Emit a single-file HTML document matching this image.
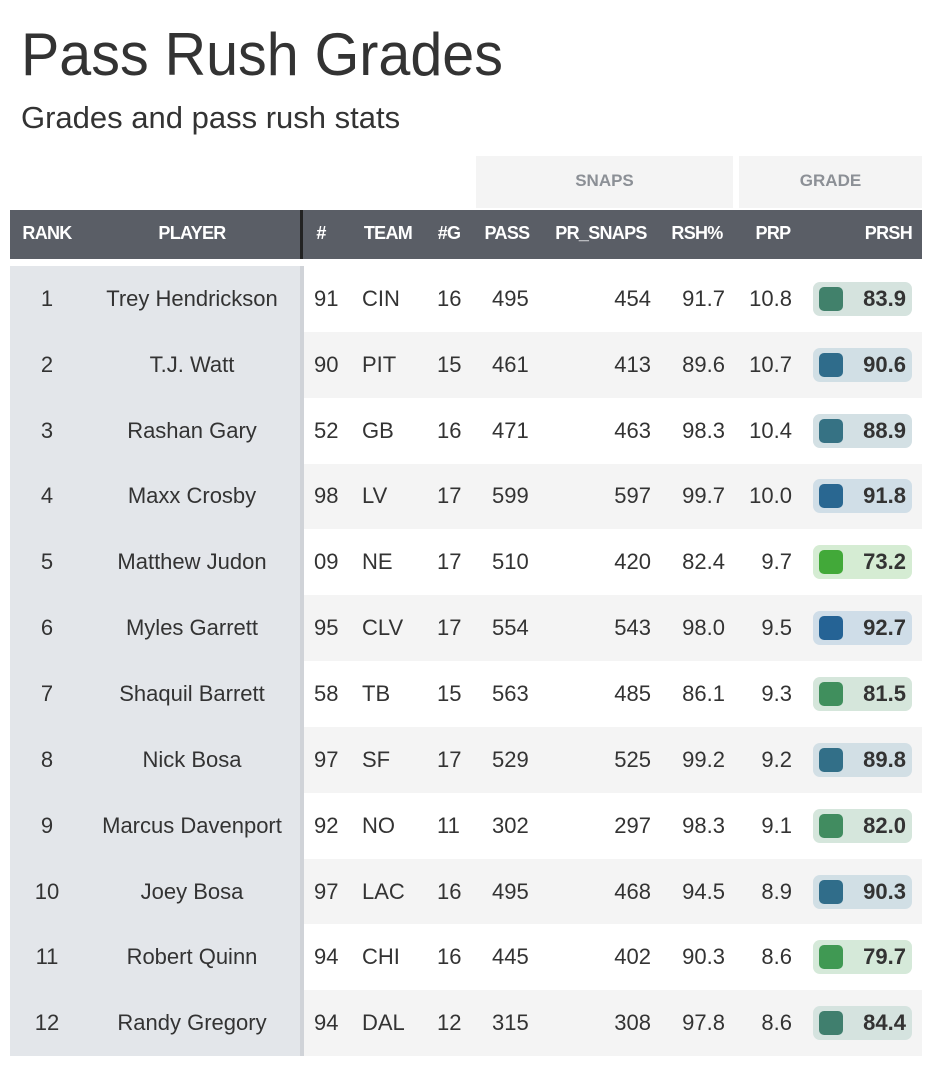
<!DOCTYPE html>
<html><head><meta charset="utf-8">
<style>
body{margin:0;width:932px;height:1068px;background:#fff;font-family:"Liberation Sans",sans-serif;color:#333;position:relative;overflow:hidden}
.a{position:absolute;white-space:nowrap}
.hd{color:#fff;font-weight:bold;font-size:18px;letter-spacing:-0.7px;top:223px}
.c{font-size:22px;color:#333}
</style></head><body>
<div class="a" style="left:21px;top:20px;font-size:60px;transform:scaleX(0.957);transform-origin:left top;color:#333">Pass Rush Grades</div>
<div class="a" style="left:21px;top:100px;font-size:31px;transform:scaleX(1.0);transform-origin:left top;color:#333">Grades and pass rush stats</div>
<div class="a" style="left:476px;top:156px;width:257px;height:52px;background:#f4f4f4;color:#8c9096;font-weight:bold;font-size:17px;text-align:center;line-height:50px">SNAPS</div>
<div class="a" style="left:739px;top:156px;width:183px;height:52px;background:#f4f4f4;color:#8c9096;font-weight:bold;font-size:17px;text-align:center;line-height:50px">GRADE</div>
<div class="a" style="left:10px;top:210px;width:912px;height:49px;background:#5a5e66"></div>
<div class="a" style="left:300px;top:210px;width:3px;height:49px;background:#222"></div>
<div class="a" style="left:10px;top:266px;width:290px;height:790px;background:#e3e6ea"></div>
<div class="a" style="left:300px;top:266px;width:4px;height:790px;background:#d0d3d8"></div>
<script>
const ranks=[1,2,3,4,5,6,7,8,9,10,11,12];
const players=["Trey Hendrickson","T.J. Watt","Rashan Gary","Maxx Crosby","Matthew Judon","Myles Garrett","Shaquil Barrett","Nick Bosa","Marcus Davenport","Joey Bosa","Robert Quinn","Randy Gregory"];
const jerseys=["91","90","52","98","09","95","58","97","92","97","94","94"];
const teams=["CIN","PIT","GB","LV","NE","CLV","TB","SF","NO","LAC","CHI","DAL"];
const games=[16,15,16,17,17,17,15,17,11,16,16,12];
const pass=[495,461,471,599,510,554,563,529,302,495,445,315];
const prSnaps=[454,413,463,597,420,543,485,525,297,468,402,308];
const rsh=["91.7","89.6","98.3","99.7","82.4","98.0","86.1","99.2","98.3","94.5","90.3","97.8"];
const prp=["10.8","10.7","10.4","10.0","9.7","9.5","9.3","9.2","9.1","8.9","8.6","8.6"];
const prsh=[83.9,90.6,88.9,91.8,73.2,92.7,81.5,89.8,82.0,90.3,79.7,84.4];

function gradeColor(g){
  const stops=[[73,[66,170,56]],[80,[64,152,84]],[84,[65,128,108]],[89,[54,114,132]],[93,[36,98,150]]];
  if(g<=stops[0][0])return stops[0][1];
  for(let i=1;i<stops.length;i++){if(g<=stops[i][0]){const t=(g-stops[i-1][0])/(stops[i][0]-stops[i-1][0]);return stops[i-1][1].map((v,k)=>Math.round(v+(stops[i][1][k]-v)*t));}}
  return stops[stops.length-1][1];
}
const body=document.body;
const hdrs=[["RANK",47,"c"],["PLAYER",192,"c"],["#",321,"c"],["TEAM",388,"c"],["#G",449,"c"],["PASS",507,"c"],["PR_SNAPS",601,"c"],["RSH%",697,"c"],["PRP",773,"c"],["PRSH",912,"r"]];
hdrs.forEach(h=>{
  const d=document.createElement('div');d.className='a hd';d.textContent=h[0];
  
  
  if(h[2]==="c"){d.style.left=(h[1]-60)+'px';d.style.width='120px';d.style.textAlign='center';}
  else{d.style.left=(h[1]-120)+'px';d.style.width='120px';d.style.textAlign='right';}
  body.appendChild(d);
});
const rowH=65.85,top0=266;
function txt(t,x,y,align,name,bold){
  const d=document.createElement('div');d.className='a c';d.textContent=t;
  
  
  d.style.top=(y-13)+'px';
  if(align==='l'){d.style.left=x+'px';}
  else if(align==='c'){d.style.left=(x-110)+'px';d.style.width='220px';d.style.textAlign='center';}
  else{d.style.left=(x-120)+'px';d.style.width='120px';d.style.textAlign='right';}
  if(bold)d.style.fontWeight='bold';
  body.appendChild(d);return d;
}
ranks.forEach((r,i)=>{
  const y=top0+i*rowH, cy=y+rowH/2;
  if(i%2===1){const bg=document.createElement('div');bg.className='a';
    
    
    bg.style.cssText=`left:304px;top:${y}px;width:618px;height:${rowH}px;background:#f4f4f4`;body.appendChild(bg);}
  txt(String(r),47,cy,'c','rank-cell');
  txt(players[i],192,cy,'c','player-name');
  txt(jerseys[i],314,cy,'l','jersey-number');
  txt(teams[i],362,cy,'l','team-cell');
  txt(String(games[i]),437,cy,'l','games-cell');
  txt(String(pass[i]),492,cy,'l','pass-snaps-cell');
  txt(String(prSnaps[i]),651,cy,'r','pr-snaps-cell');
  txt(rsh[i],725,cy,'r','rsh-pct-cell');
  txt(prp[i],792,cy,'r','prp-cell');
  const c=gradeColor(prsh[i]);
  const light=c.map(v=>Math.round(v*0.2+255*0.8-(255-v)*0.02));
  const b=document.createElement('div');b.className='a';
  
  
  b.style.cssText=`left:813px;top:${cy-17}px;width:99px;height:34px;border-radius:7px;background:rgb(${light.join(',')})`;
  body.appendChild(b);
  const sq=document.createElement('div');sq.className='a';
  
  
  sq.style.cssText=`left:819px;top:${cy-12}px;width:24px;height:24px;border-radius:5px;background:rgb(${c.join(',')})`;
  body.appendChild(sq);
  txt(prsh[i].toFixed(1),906,cy,'r','prsh-value',true);
});
</script>
</body></html>
